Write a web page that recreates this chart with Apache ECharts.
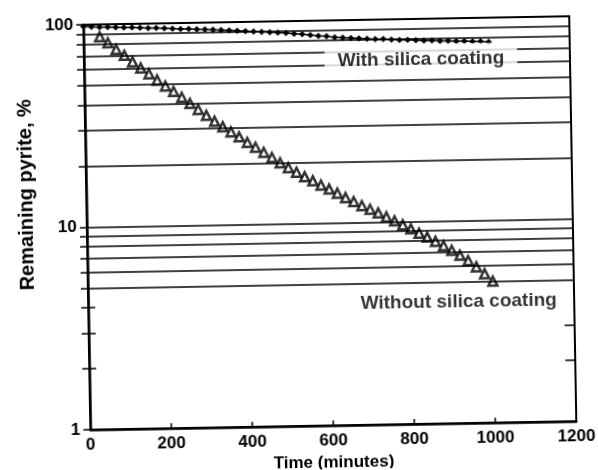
<!DOCTYPE html>
<html><head><meta charset="utf-8">
<script src="https://cdn.jsdelivr.net/npm/echarts@6/dist/echarts.min.js"></script>
<style>
html,body{margin:0;padding:0;background:#fff;overflow:hidden}
#c{width:598px;height:470px;transform:rotate(-1deg);transform-origin:299px 235px;}
</style>
</head><body><div id="c"></div>
<script>
// ---- data ----
const timeWithout = [40,60,80,100,120,140,160,180,200,220,240,260,280,300,320,340,360,380,400,420,440,460,480,500,520,540,560,580,600,620,640,660,680,700,720,740,760,780,800,820,840,860,880,900,920,940,960,980,1000];
const pyriteWithout = [87,81,75,70,65,60.5,56.5,52.5,49,46,43,40,37.3,34.8,32.5,30.5,28.7,27.1,25.4,24,22.6,21.3,20,18.9,17.9,17,16.2,15.4,14.7,14,13.3,12.7,12.1,11.6,11.1,10.6,10.1,9.65,9.2,8.75,8.35,7.95,7.55,7.15,6.75,6.35,5.9,5.45,5.0];
const timeWith = [0,20,40,60,80,100,120,140,160,180,200,220,240,260,280,300,320,340,360,380,400,420,440,460,480,500,520,540,560,580,600,620,640,660,680,700,720,740,760,780,800,820,840,860,880,900,920,940,960,980,1000];
const pyriteWith = [98,97.5,97,97,96.5,96,96,95.5,95,95,94.5,94,93.5,93.5,93,92.5,92,91.5,91,90.5,90,89.5,89,88.5,88,87.5,86.5,86,85,84,83.5,82.5,82,81.5,81,80.5,80,80,79.5,79,79,78.5,78,78,77.5,77.5,77,77,76.5,76.5,76];
const xTickValues = [0,200,400,600,800,1000,1200];
const yLabelValues = [1,10,100];
const gridValues = [5,6,7,8,9,10,20,30,40,50,60,70,80,90];
const leftTickValues = [1,2,3,4,5,6,7,8,9,10,20,30,40,50,60,70,80,90,100];
const leftInnerTickValues = [2,3,4];
const rightTickValues = [2,3];
const labelWith = {text:'With silica coating', x:832, y:63};
const labelWithout = {text:'Without silica coating', x:915, y:3.95};

const FONT = '"Liberation Sans", Arial, Helvetica, sans-serif';
const chart = echarts.init(document.getElementById('c'));
const zip = (a,b)=>a.map((v,i)=>[v,b[i]]);

chart.setOption({
  animation:false,
  backgroundColor:'#fff',
  grid:{left:87,right:25,top:21,bottom:44,outerBoundsMode:'none',containLabel:false,
        show:true,borderColor:'#000',borderWidth:2,backgroundColor:'transparent'},
  xAxis:{
    type:'value',min:0,max:1200,interval:200,
    name:'Time (minutes)',nameLocation:'middle',nameGap:26,
    nameTextStyle:{color:'#000',fontSize:17,fontWeight:'bold',fontFamily:FONT},
    axisLine:{show:true,lineStyle:{color:'#000',width:2.5}},
    axisTick:{show:true,inside:true,length:5,lineStyle:{color:'#000',width:1.5},customValues:xTickValues},
    axisLabel:{color:'#000',fontSize:17,fontWeight:'bold',fontFamily:FONT,margin:7,customValues:xTickValues,
      formatter:v=>String(v)},
    splitLine:{show:false}
  },
  yAxis:[
    {type:'log',logBase:10,min:1,max:100,position:'left',
     axisLine:{show:true,lineStyle:{color:'#000',width:2.5}},
     axisTick:{show:true,inside:false,length:7,lineStyle:{color:'#000',width:1.5},customValues:leftTickValues},
     axisLabel:{color:'#000',fontSize:17,fontWeight:'bold',fontFamily:FONT,margin:10,customValues:yLabelValues,
       formatter:v=>String(v)},
     splitLine:{show:false}},
    {type:'log',logBase:10,min:1,max:100,position:'left',
     axisLine:{show:false},
     axisTick:{show:true,inside:true,length:7,lineStyle:{color:'#000',width:1.5},customValues:leftInnerTickValues},
     axisLabel:{show:false},splitLine:{show:false}},
    {type:'log',logBase:10,min:1,max:100,position:'right',
     axisLine:{show:true,lineStyle:{color:'#000',width:2}},
     axisTick:{show:true,inside:true,length:10,lineStyle:{color:'#000',width:1.5},customValues:rightTickValues},
     axisLabel:{show:false},splitLine:{show:false}}
  ],
  graphic:[{
    type:'text',x:27,y:190,rotation:Math.PI/2,z:10,
    style:{text:'Remaining pyrite, %',fill:'#000',font:'bold 20px '+FONT,
      align:'center',verticalAlign:'middle',textAlign:'center',textVerticalAlign:'middle'}
  }],
  series:[
    {type:'line',data:[],silent:true,z:1,
     markLine:{silent:true,symbol:'none',animation:false,label:{show:false},
       lineStyle:{color:'#000',width:1.6,type:'solid'},
       emphasis:{disabled:true},
       data:gridValues.map(v=>({yAxis:v}))}},
    {type:'line',name:'With silica coating',data:zip(timeWith,pyriteWith),z:3,
     symbol:'diamond',symbolSize:6.5,showSymbol:true,
     itemStyle:{color:'#000'},lineStyle:{color:'#000',width:1.5}},
    {type:'scatter',name:'Without silica coating',data:zip(timeWithout,pyriteWithout),z:4,
     symbol:'triangle',symbolSize:9,
     itemStyle:{color:'#fff',borderColor:'#000',borderWidth:2.5}},
    {type:'scatter',data:[[labelWith.x,labelWith.y]],z:6,symbol:'circle',symbolSize:1,
     itemStyle:{color:'rgba(0,0,0,0)'},silent:true,
     label:{show:true,position:'inside',formatter:labelWith.text,color:'#000',
       fontSize:19,fontWeight:'bold',fontFamily:FONT,backgroundColor:'#fff',padding:[6,13]}},
    {type:'scatter',data:[[labelWithout.x,labelWithout.y]],z:6,symbol:'circle',symbolSize:1,
     itemStyle:{color:'rgba(0,0,0,0)'},silent:true,
     label:{show:true,position:'inside',formatter:labelWithout.text,color:'#000',
       fontSize:19,fontWeight:'bold',fontFamily:FONT}}
  ]
});
</script>
</body></html>
